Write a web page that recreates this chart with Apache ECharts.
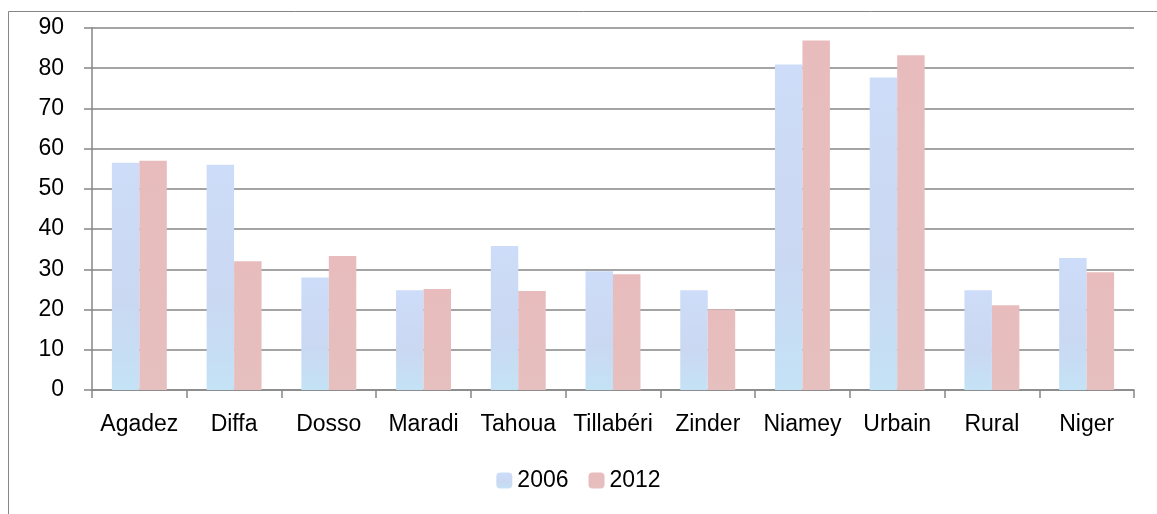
<!DOCTYPE html>
<html>
<head>
<meta charset="utf-8">
<script src="https://cdn.jsdelivr.net/npm/echarts@6/dist/echarts.min.js"></script>
<style>
  html, body { margin: 0; padding: 0; background: #fff; }
  #chart { width: 1157px; height: 514px; }
</style>
</head>
<body>
<div id="chart"></div>
<script>
// categories and values
const categories = ['Agadez', 'Diffa', 'Dosso', 'Maradi', 'Tahoua', 'Tillabéri', 'Zinder', 'Niamey', 'Urbain', 'Rural', 'Niger']
const values2006 = [56.5, 56.0, 28.0, 24.8, 35.8, 29.5, 24.8, 80.9, 77.7, 24.8, 32.8]
const values2012 = [57.0, 32.0, 33.3, 25.1, 24.6, 28.8, 20.0, 86.9, 83.2, 21.1, 29.3]
const seriesNames = ['2006', '2012']

const chart = echarts.init(document.getElementById('chart'))

// pastel fills, a soft gradient stands in for the textured look
const blueFill = new echarts.graphic.LinearGradient(0, 0, 0, 1, [
  { offset: 0, color: '#cddcf8' },
  { offset: 0.6, color: '#cad8f2' },
  { offset: 1, color: '#c4e2f6' }
])
const pinkFill = new echarts.graphic.LinearGradient(0, 0, 0, 1, [
  { offset: 0, color: '#e8bcbc' },
  { offset: 1, color: '#e6bfbf' }
])

const font = 'Liberation Sans, Arial, sans-serif'

const option = {
  animation: false,
  textStyle: { fontFamily: font },
  grid: { left: 92, right: 23, top: 28, bottom: 124 },
  graphic: [{
    type: 'rect',
    shape: { x: 8.5, y: 11.5, width: 1160, height: 520 },
    style: { fill: 'none', stroke: '#868686', lineWidth: 1 },
    silent: true
  }],
  legend: {
    bottom: 17,
    left: 'center',
    itemWidth: 16,
    itemHeight: 16,
    itemGap: 20,
    textStyle: { fontSize: 23, color: '#000', fontFamily: font },
    data: seriesNames
  },
  xAxis: {
    type: 'category',
    data: categories,
    axisLine: { lineStyle: { color: '#868686', width: 1.5 } },
    axisTick: { show: true, length: 8, lineStyle: { color: '#868686', width: 1.5 } },
    axisLabel: { color: '#000', fontSize: 23, margin: 23, interval: 0 }
  },
  yAxis: {
    type: 'value',
    min: 0,
    max: 90,
    interval: 10,
    axisLine: { show: true, lineStyle: { color: '#868686', width: 1.5 } },
    axisTick: { show: true, length: 8, lineStyle: { color: '#868686', width: 1.5 } },
    axisLabel: { color: '#000', fontSize: 23, margin: 28 },
    splitLine: { lineStyle: { color: '#868686', width: 1.5 } }
  },
  series: [
    {
      name: seriesNames[0],
      type: 'bar',
      data: values2006,
      barGap: '0%',
      barCategoryGap: '42%',
      itemStyle: { color: blueFill }
    },
    {
      name: seriesNames[1],
      type: 'bar',
      data: values2012,
      barGap: '0%',
      barCategoryGap: '42%',
      itemStyle: { color: pinkFill }
    }
  ]
}
chart.setOption(option)
</script>
</body>
</html>
